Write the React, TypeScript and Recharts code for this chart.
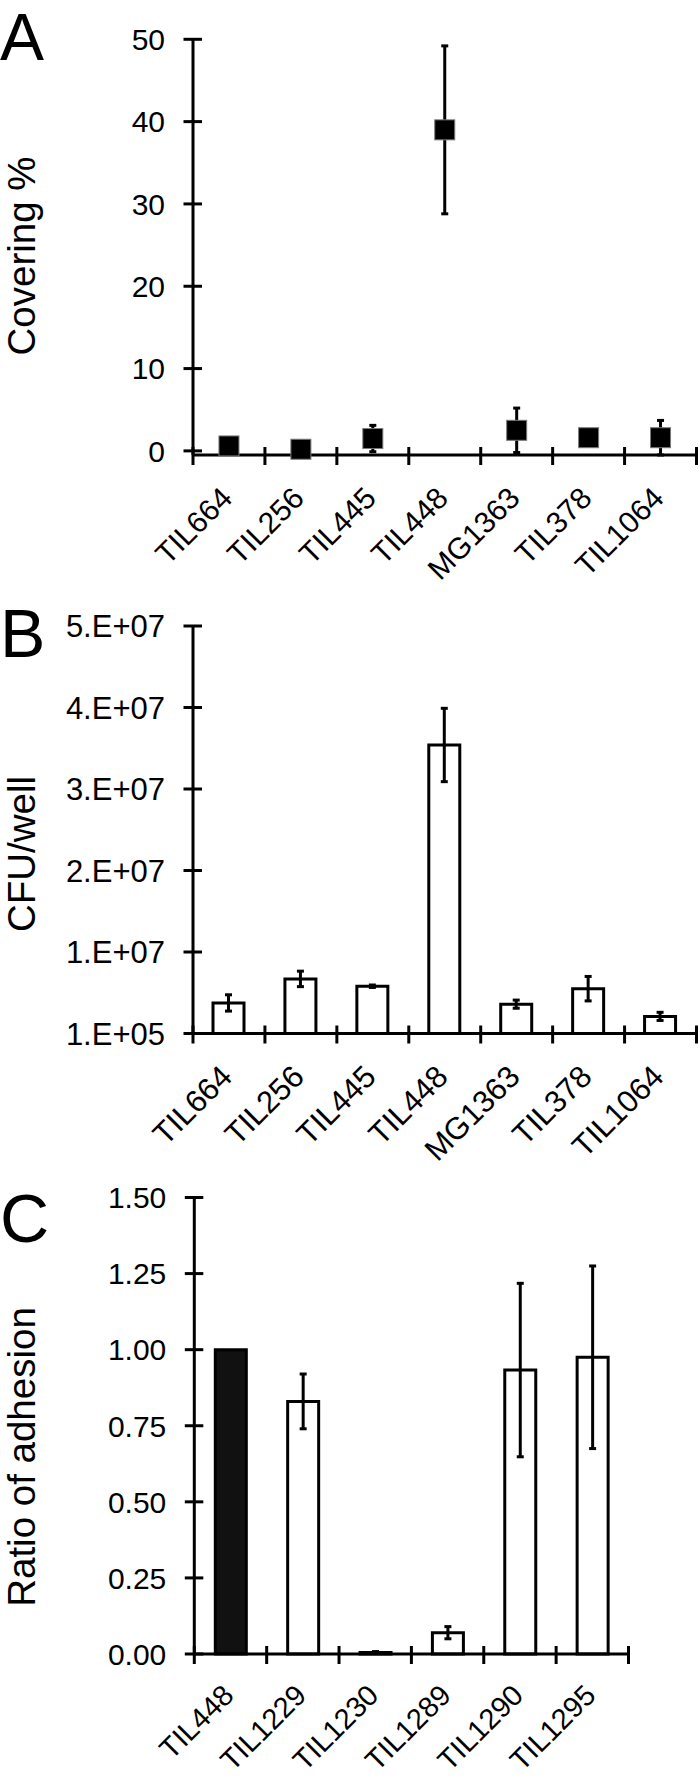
import React from 'react';
import { ComposedChart, Bar, Line, XAxis, YAxis, ErrorBar, Cell } from 'recharts';

const FONT = '"Liberation Sans", Arial, Helvetica, sans-serif';

// strains shared by panels A and B
const strainsAB = ['TIL664', 'TIL256', 'TIL445', 'TIL448', 'MG1363', 'TIL378', 'TIL1064'];

// A: covering %
const coveringPct = [0.6, 0.2, 1.5, 39, 2.5, 1.6, 1.6];
const coveringErr = [0.3, 0.3, 1.6, 10.2, 2.7, 0.3, 2.1];
const coveringTicks = [0, 10, 20, 30, 40, 50];
const coveringTickLabels = ['0', '10', '20', '30', '40', '50'];

// B: CFU/well
const cfuPerWell = [3.85e6, 6.8e6, 5.9e6, 35.5e6, 3.7e6, 5.6e6, 2.2e6];
const cfuErr = [1.0e6, 0.95e6, 0.15e6, 4.5e6, 0.5e6, 1.5e6, 0.5e6];
const cfuTicks = [1e5, 1.01e7, 2.01e7, 3.01e7, 4.01e7, 5.01e7];
const cfuTickLabels = ['1.E+05', '1.E+07', '2.E+07', '3.E+07', '4.E+07', '5.E+07'];

// C: ratio of adhesion
const strainsC = ['TIL448', 'TIL1229', 'TIL1230', 'TIL1289', 'TIL1290', 'TIL1295'];
const adhesionRatio = [1.0, 0.83, 0.005, 0.07, 0.933, 0.975];
const adhesionErr = [0, 0.09, 0.003, 0.02, 0.285, 0.3];
const adhesionFill = ['#111', '#fff', '#fff', '#fff', '#fff', '#fff'];
const adhesionTicks = [0, 0.25, 0.5, 0.75, 1.0, 1.25, 1.5];
const adhesionTickLabels = ['0.00', '0.25', '0.50', '0.75', '1.00', '1.25', '1.50'];

const dataA = strainsAB.map((s, i) => ({ strain: s, cover: coveringPct[i], err: coveringErr[i] }));
const dataB = strainsAB.map((s, i) => ({ strain: s, cfu: cfuPerWell[i], err: cfuErr[i] }));
const dataC = strainsC.map((s, i) => ({ strain: s, ratio: adhesionRatio[i], err: adhesionErr[i] }));

const axisLine = { stroke: '#000', strokeWidth: 3 };

// y ticks cross the axis, label right-aligned left of it
const makeYTick = (ticks: number[], labels: string[], fontSize: number) => (props: any) => {
  const { x, y, payload } = props;
  const i = ticks.findIndex(t => Math.abs(t - payload.value) < 1e-6 * Math.max(1, Math.abs(t)));
  return (
    <g>
      <line x1={x - 9.5} x2={x + 9} y1={y} y2={y} stroke="#000" strokeWidth={3} />
      <text x={x - 28} y={y} dy="0.36em" textAnchor="end" fontSize={fontSize} fontFamily={FONT} fill="#000">
        {labels[i]}
      </text>
    </g>
  );
};

// x ticks sit between categories (excel style), labels at -45deg
const makeXTick = (count: number, halfBand: number, fontSize: number, drop: number) => (props: any) => {
  const { x, y, payload, index } = props;
  const h = payload.offset || halfBand;
  const tx = x + 5;
  const ty = y + drop;
  return (
    <g>
      <line x1={x - h} x2={x - h} y1={y - 8} y2={y + 10} stroke="#000" strokeWidth={3} />
      {index === count - 1 && <line x1={x + h} x2={x + h} y1={y - 8} y2={y + 10} stroke="#000" strokeWidth={3} />}
      <text x={tx} y={ty} transform={`rotate(-45 ${tx} ${ty})`} textAnchor="end" fontSize={fontSize} fontFamily={FONT} fill="#000">
        {payload.value}
      </text>
    </g>
  );
};

const SquareDot = (p: any) => (
  <rect key={`sq-${p.index}`} x={p.cx - 10} y={p.cy - 10} width={20} height={20} fill="#000" stroke="#7a7a7a" strokeWidth={1} />
);

const App: React.FC = () => {
  return (
    <div style={{ position: 'relative', width: 700, height: 1778, background: '#fff', overflow: 'hidden' }}>
      <style>{'body{margin:0}'}</style>

      {/* A */}
      <div style={{ position: 'absolute', left: 0, top: 0 }}>
        <ComposedChart width={700} height={600} data={dataA} margin={{ top: 39.3, right: 3.5, bottom: 0, left: 0 }}>
          <XAxis dataKey="strain" scale="band" interval={0} height={145} axisLine={axisLine} tickLine={false}
            tickSize={0} tickMargin={0} tick={makeXTick(strainsAB.length, 36, 30, 45)} />
          <YAxis type="number" domain={[0, 50]} ticks={coveringTicks} interval={0} width={193} axisLine={axisLine}
            tickLine={false} tickSize={0} tickMargin={0} tick={makeYTick(coveringTicks, coveringTickLabels, 30)} />
          <Line dataKey="cover" stroke="none" dot={SquareDot} activeDot={false} isAnimationActive={false}>
            <ErrorBar dataKey="err" width={3.5} stroke="#000" strokeWidth={3} />
          </Line>
        </ComposedChart>
      </div>

      {/* B */}
      <div style={{ position: 'absolute', left: 0, top: 560 }}>
        <ComposedChart width={700} height={620} data={dataB} margin={{ top: 66, right: 3.5, bottom: 0, left: 0 }}>
          <XAxis dataKey="strain" scale="band" interval={0} height={146.5} axisLine={axisLine} tickLine={false}
            tickSize={0} tickMargin={0} tick={makeXTick(strainsAB.length, 36, 31, 45)} />
          <YAxis type="number" domain={[1e5, 5.01e7]} ticks={cfuTicks} interval={0} width={193} axisLine={axisLine}
            tickLine={false} tickSize={0} tickMargin={0} tick={makeYTick(cfuTicks, cfuTickLabels, 31)} />
          <Bar dataKey="cfu" barSize={31} fill="#fff" stroke="#000" strokeWidth={3} isAnimationActive={false}>
            <ErrorBar dataKey="err" width={3.5} stroke="#000" strokeWidth={3} />
          </Bar>
        </ComposedChart>
      </div>

      {/* C */}
      <div style={{ position: 'absolute', left: 0, top: 1140 }}>
        <ComposedChart width={700} height={638} data={dataC} margin={{ top: 57.5, right: 71.5, bottom: 0, left: 0 }}>
          <XAxis dataKey="strain" scale="band" interval={0} height={124} axisLine={axisLine} tickLine={false}
            tickSize={0} tickMargin={0} tick={makeXTick(strainsC.length, 36, 29, 43)} />
          <YAxis type="number" domain={[0, 1.5]} ticks={adhesionTicks} interval={0} width={194.3} axisLine={axisLine}
            tickLine={false} tickSize={0} tickMargin={0} tick={makeYTick(adhesionTicks, adhesionTickLabels, 30)} />
          <Bar dataKey="ratio" barSize={31} stroke="#000" strokeWidth={3} isAnimationActive={false}>
            {dataC.map((d, i) => (
              <Cell key={d.strain} fill={adhesionFill[i]} />
            ))}
            <ErrorBar dataKey="err" width={3.5} stroke="#000" strokeWidth={3} />
          </Bar>
        </ComposedChart>
      </div>

      {/* panel letters and axis titles */}
      <svg width={700} height={1778} style={{ position: 'absolute', left: 0, top: 0, pointerEvents: 'none' }}>
        <g fontFamily={FONT} fill="#000">
          <text x={0} y={60} fontSize={66}>A</text>
          <text x={0} y={657} fontSize={68}>B</text>
          <text x={0} y={1242} fontSize={68}>C</text>
          <text x={35} y={256} fontSize={38.5} textAnchor="middle" transform="rotate(-90 35 256)">Covering %</text>
          <text x={35} y={854} fontSize={38.5} textAnchor="middle" transform="rotate(-90 35 854)">CFU/well</text>
          <text x={35} y={1457} fontSize={38.5} textAnchor="middle" transform="rotate(-90 35 1457)">Ratio of adhesion</text>
        </g>
      </svg>
    </div>
  );
};

export default App;
